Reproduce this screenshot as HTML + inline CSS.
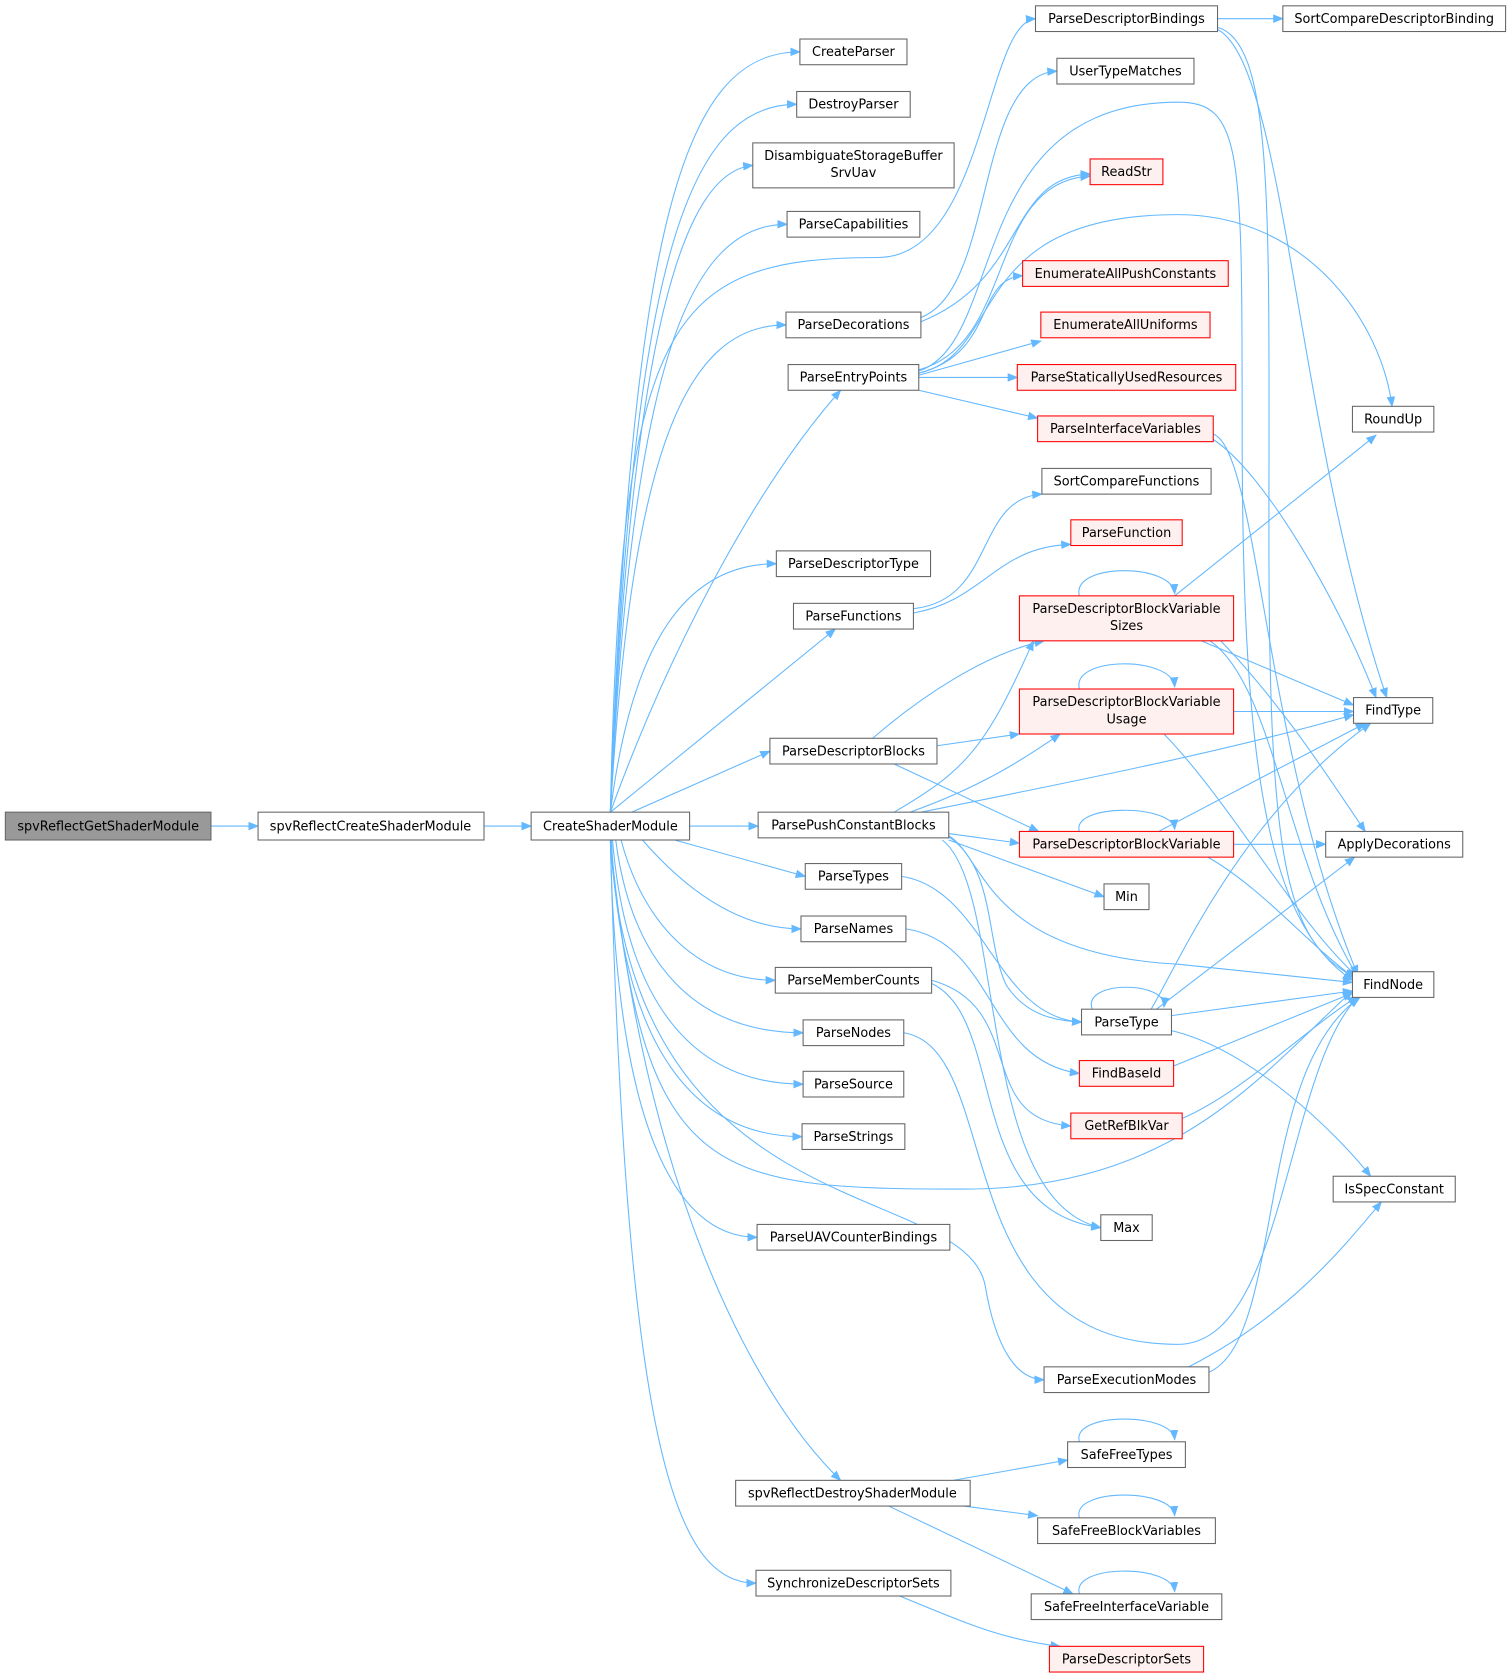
<!DOCTYPE html>
<html><head><meta charset="utf-8"><style>
html,body{margin:0;padding:0;background:#fff}
svg{display:block}
text{font-family:"DejaVu Sans","Liberation Sans",sans-serif;font-size:12px;fill:#000;text-anchor:middle}
.n rect{fill:#fff;stroke:#666;stroke-width:1}
.r rect{fill:#fff0f0;stroke:#f00;stroke-width:1}
.g rect{fill:#999;stroke:#666}
path.e{fill:none;stroke:#63b8ff;stroke-width:1}
</style></head><body>
<svg width="1512" height="1680" viewBox="0 0 1412 1568" xmlns="http://www.w3.org/2000/svg">
<defs><marker id="a" viewBox="0 0 10 10" refX="9" refY="5" markerWidth="10" markerHeight="10" markerUnits="userSpaceOnUse" orient="auto"><path d="M0,1 L10,5 L0,9 z" fill="#63b8ff"/></marker></defs>
<g marker-end="url(#a)">
<path class="e" d="M197,771 L241,771"/>
<path class="e" d="M452,771 L496,771"/>
<path class="e" d="M570,758 C590,200 640,48 747,48"/>
<path class="e" d="M570,758 C590,250 640,97 744,97"/>
<path class="e" d="M570,758 C590,300 640,160 703,154"/>
<path class="e" d="M570,758 C590,350 640,209 735,209"/>
<path class="e" d="M570,758 C590,420 640,303 734,303"/>
<path class="e" d="M570,758 C620,620 700,460 785,364"/>
<path class="e" d="M570,758 C590,600 640,526 725,526"/>
<path class="e" d="M570,758 L780,587"/>
<path class="e" d="M590,758 L719,701"/>
<path class="e" d="M644,771 L708,771"/>
<path class="e" d="M630,784 L752,818"/>
<path class="e" d="M600,784 C640,830 690,867 748,867"/>
<path class="e" d="M580,784 C600,860 650,915 724,915"/>
<path class="e" d="M575,784 C590,900 650,964 750,964"/>
<path class="e" d="M572,784 C585,940 650,1012 750,1012"/>
<path class="e" d="M571,784 C580,980 650,1061 749,1061"/>
<path class="e" d="M570,784 C575,1050 630,1155 707,1155"/>
<path class="e" d="M570,784 C600,1100 700,1300 785,1382"/>
<path class="e" d="M570,784 C585,1350 630,1478 706,1478"/>
<path class="e" d="M570,758 C580,300 620,240 820,240 C920,240 920,20 967,17"/>
<path class="e" d="M570,784 C600,1100 660,1110 900,1110 C1100,1110 1180,1000 1263,925"/>
<path class="e" d="M570,784 C590,1150 900,1100 920,1200 C930,1260 950,1288 975,1288"/>
<path class="e" d="M860,296 C930,270 910,70 987,66"/>
<path class="e" d="M860,300 C960,260 940,165 1018,162"/>
<path class="e" d="M858,345 C950,320 920,170 1018,164"/>
<path class="e" d="M858,346 C940,320 900,95 1100,95 C1160,95 1160,140 1160,400 C1160,700 1180,860 1263,915"/>
<path class="e" d="M858,348 C940,330 900,200 1100,200 C1220,200 1290,300 1300,379"/>
<path class="e" d="M858,348 C930,330 910,260 955,257"/>
<path class="e" d="M858,350 L972,318"/>
<path class="e" d="M858,352 L950,352"/>
<path class="e" d="M858,364 L969,390"/>
<path class="e" d="M1137,17 L1198,17"/>
<path class="e" d="M1137,25 C1190,40 1185,200 1185,500 C1185,800 1200,880 1265,912"/>
<path class="e" d="M1137,27 C1200,60 1210,400 1295,651"/>
<path class="e" d="M1133,405 C1175,420 1180,700 1268,910"/>
<path class="e" d="M1133,410 C1180,440 1250,560 1285,651"/>
<path class="e" d="M853,568 C930,560 910,465 973,461"/>
<path class="e" d="M853,572 C920,560 930,510 1000,508"/>
<path class="e" d="M815,689 C860,650 920,610 975,598"/>
<path class="e" d="M875,696 L952,685"/>
<path class="e" d="M835,713 L970,776"/>
<path class="e" d="M835,758 C900,720 920,700 965,598"/>
<path class="e" d="M850,758 C900,740 940,720 990,685"/>
<path class="e" d="M886,778 L952,787"/>
<path class="e" d="M886,784 L1031,837"/>
<path class="e" d="M860,758 C1000,730 1150,700 1264,667"/>
<path class="e" d="M886,780 C920,800 920,890 1100,900 L1263,917"/>
<path class="e" d="M886,781 C930,810 920,880 940,920 C960,950 990,953 1010,954"/>
<path class="e" d="M880,784 C940,830 910,1120 1028,1146"/>
<path class="e" d="M1008,556 C1000,525 1095,525 1097,554"/>
<path class="e" d="M1097,556 L1285,406"/>
<path class="e" d="M1122,598 L1264,658"/>
<path class="e" d="M1130,598 C1190,640 1200,800 1268,912"/>
<path class="e" d="M1140,598 C1200,660 1250,740 1275,776"/>
<path class="e" d="M1008,643 C1000,612 1095,612 1097,641"/>
<path class="e" d="M1152,664 L1264,664"/>
<path class="e" d="M1087,685 C1150,750 1210,860 1268,912"/>
<path class="e" d="M1008,776 C1000,750 1095,750 1097,774"/>
<path class="e" d="M1082,776 L1275,675"/>
<path class="e" d="M1152,788 L1238,788"/>
<path class="e" d="M1128,800 C1180,830 1220,880 1265,913"/>
<path class="e" d="M842,818 C920,830 930,950 1010,954"/>
<path class="e" d="M846,867 C930,880 920,990 1008,1002"/>
<path class="e" d="M870,915 C960,940 910,1045 1000,1051"/>
<path class="e" d="M870,918 C940,950 900,1130 1028,1146"/>
<path class="e" d="M844,964 C940,980 880,1255 1100,1255 C1200,1255 1200,1000 1268,931"/>
<path class="e" d="M1020,942 C1010,915 1090,915 1087,940"/>
<path class="e" d="M1075,942 C1100,900 1160,760 1280,675"/>
<path class="e" d="M1080,942 L1265,800"/>
<path class="e" d="M1094,948 L1263,925"/>
<path class="e" d="M1094,962 C1170,980 1250,1060 1280,1098"/>
<path class="e" d="M1096,995 L1263,927"/>
<path class="e" d="M1104,1044 C1160,1020 1220,960 1268,930"/>
<path class="e" d="M1129,1281 C1200,1250 1170,1000 1270,931"/>
<path class="e" d="M1110,1276 C1200,1230 1250,1170 1290,1122"/>
<path class="e" d="M890,1382 L997,1363"/>
<path class="e" d="M900,1406 L969,1415"/>
<path class="e" d="M830,1406 L1002,1488"/>
<path class="e" d="M1008,1346 C1000,1318 1095,1318 1097,1344"/>
<path class="e" d="M1008,1417 C1000,1389 1095,1389 1097,1415"/>
<path class="e" d="M1008,1488 C1000,1460 1095,1460 1097,1486"/>
<path class="e" d="M840,1490 C890,1510 930,1530 990,1537"/>
</g>
<g class="g"><rect x="5" y="758" width="192" height="26"/><text x="101" y="775">spvReflectGetShaderModule</text></g>
<g class="n">
<rect x="241" y="758" width="211" height="26"/><text x="346" y="775">spvReflectCreateShaderModule</text>
<rect x="496" y="758" width="148" height="26"/><text x="570" y="775">CreateShaderModule</text>
<rect x="747" y="36" width="100" height="24"/><text x="797" y="52">CreateParser</text>
<rect x="744" y="85" width="106" height="24"/><text x="797" y="101">DestroyParser</text>
<rect x="703" y="133" width="188" height="42"/><text x="797" y="149">DisambiguateStorageBuffer</text><text x="797" y="165">SrvUav</text>
<rect x="735" y="197" width="124" height="24"/><text x="797" y="213">ParseCapabilities</text>
<rect x="734" y="291" width="126" height="24"/><text x="797" y="307">ParseDecorations</text>
<rect x="736" y="340" width="122" height="24"/><text x="797" y="356">ParseEntryPoints</text>
<rect x="725" y="514" width="144" height="24"/><text x="797" y="530">ParseDescriptorType</text>
<rect x="741" y="563" width="112" height="24"/><text x="797" y="579">ParseFunctions</text>
<rect x="719" y="689" width="156" height="24"/><text x="797" y="705">ParseDescriptorBlocks</text>
<rect x="708" y="758" width="178" height="24"/><text x="797" y="774">ParsePushConstantBlocks</text>
<rect x="752" y="806" width="90" height="24"/><text x="797" y="822">ParseTypes</text>
<rect x="748" y="855" width="98" height="24"/><text x="797" y="871">ParseNames</text>
<rect x="724" y="903" width="146" height="24"/><text x="797" y="919">ParseMemberCounts</text>
<rect x="750" y="952" width="94" height="24"/><text x="797" y="968">ParseNodes</text>
<rect x="750" y="1000" width="94" height="24"/><text x="797" y="1016">ParseSource</text>
<rect x="749" y="1049" width="96" height="24"/><text x="797" y="1065">ParseStrings</text>
<rect x="707" y="1143" width="180" height="24"/><text x="797" y="1159">ParseUAVCounterBindings</text>
<rect x="687" y="1382" width="219" height="24"/><text x="796" y="1398">spvReflectDestroyShaderModule</text>
<rect x="706" y="1466" width="182" height="24"/><text x="797" y="1482">SynchronizeDescriptorSets</text>
<rect x="967" y="5" width="170" height="24"/><text x="1052" y="21">ParseDescriptorBindings</text>
<rect x="987" y="54" width="128" height="24"/><text x="1051" y="70">UserTypeMatches</text>
<rect x="973" y="437" width="158" height="24"/><text x="1052" y="453">SortCompareFunctions</text>
<rect x="1031" y="825" width="42" height="24"/><text x="1052" y="841">Min</text>
<rect x="1010" y="942" width="84" height="24"/><text x="1052" y="958">ParseType</text>
<rect x="1028" y="1134" width="48" height="24"/><text x="1052" y="1150">Max</text>
<rect x="975" y="1276" width="154" height="24"/><text x="1052" y="1292">ParseExecutionModes</text>
<rect x="997" y="1346" width="110" height="24"/><text x="1052" y="1362">SafeFreeTypes</text>
<rect x="969" y="1417" width="166" height="24"/><text x="1052" y="1433">SafeFreeBlockVariables</text>
<rect x="963" y="1488" width="178" height="24"/><text x="1052" y="1504">SafeFreeInterfaceVariable</text>
<rect x="1198" y="5" width="208" height="24"/><text x="1302" y="21">SortCompareDescriptorBinding</text>
<rect x="1263" y="379" width="76" height="24"/><text x="1301" y="395">RoundUp</text>
<rect x="1264" y="651" width="74" height="24"/><text x="1301" y="667">FindType</text>
<rect x="1238" y="776" width="128" height="24"/><text x="1302" y="792">ApplyDecorations</text>
<rect x="1263" y="907" width="76" height="24"/><text x="1301" y="923">FindNode</text>
<rect x="1245" y="1098" width="114" height="24"/><text x="1302" y="1114">IsSpecConstant</text>
</g>
<g class="r">
<rect x="1018" y="148" width="68" height="24"/><text x="1052" y="164">ReadStr</text>
<rect x="955" y="243" width="192" height="24"/><text x="1051" y="259">EnumerateAllPushConstants</text>
<rect x="972" y="291" width="158" height="24"/><text x="1051" y="307">EnumerateAllUniforms</text>
<rect x="950" y="340" width="204" height="24"/><text x="1052" y="356">ParseStaticallyUsedResources</text>
<rect x="969" y="388" width="164" height="24"/><text x="1051" y="404">ParseInterfaceVariables</text>
<rect x="1000" y="485" width="104" height="24"/><text x="1052" y="501">ParseFunction</text>
<rect x="952" y="556" width="200" height="42"/><text x="1052" y="572">ParseDescriptorBlockVariable</text><text x="1052" y="588">Sizes</text>
<rect x="952" y="643" width="200" height="42"/><text x="1052" y="659">ParseDescriptorBlockVariable</text><text x="1052" y="675">Usage</text>
<rect x="952" y="776" width="200" height="24"/><text x="1052" y="792">ParseDescriptorBlockVariable</text>
<rect x="1008" y="990" width="88" height="24"/><text x="1052" y="1006">FindBaseId</text>
<rect x="1000" y="1039" width="104" height="24"/><text x="1052" y="1055">GetRefBlkVar</text>
<rect x="980" y="1537" width="144" height="24"/><text x="1052" y="1553">ParseDescriptorSets</text>
</g>
</svg>
</body></html>
